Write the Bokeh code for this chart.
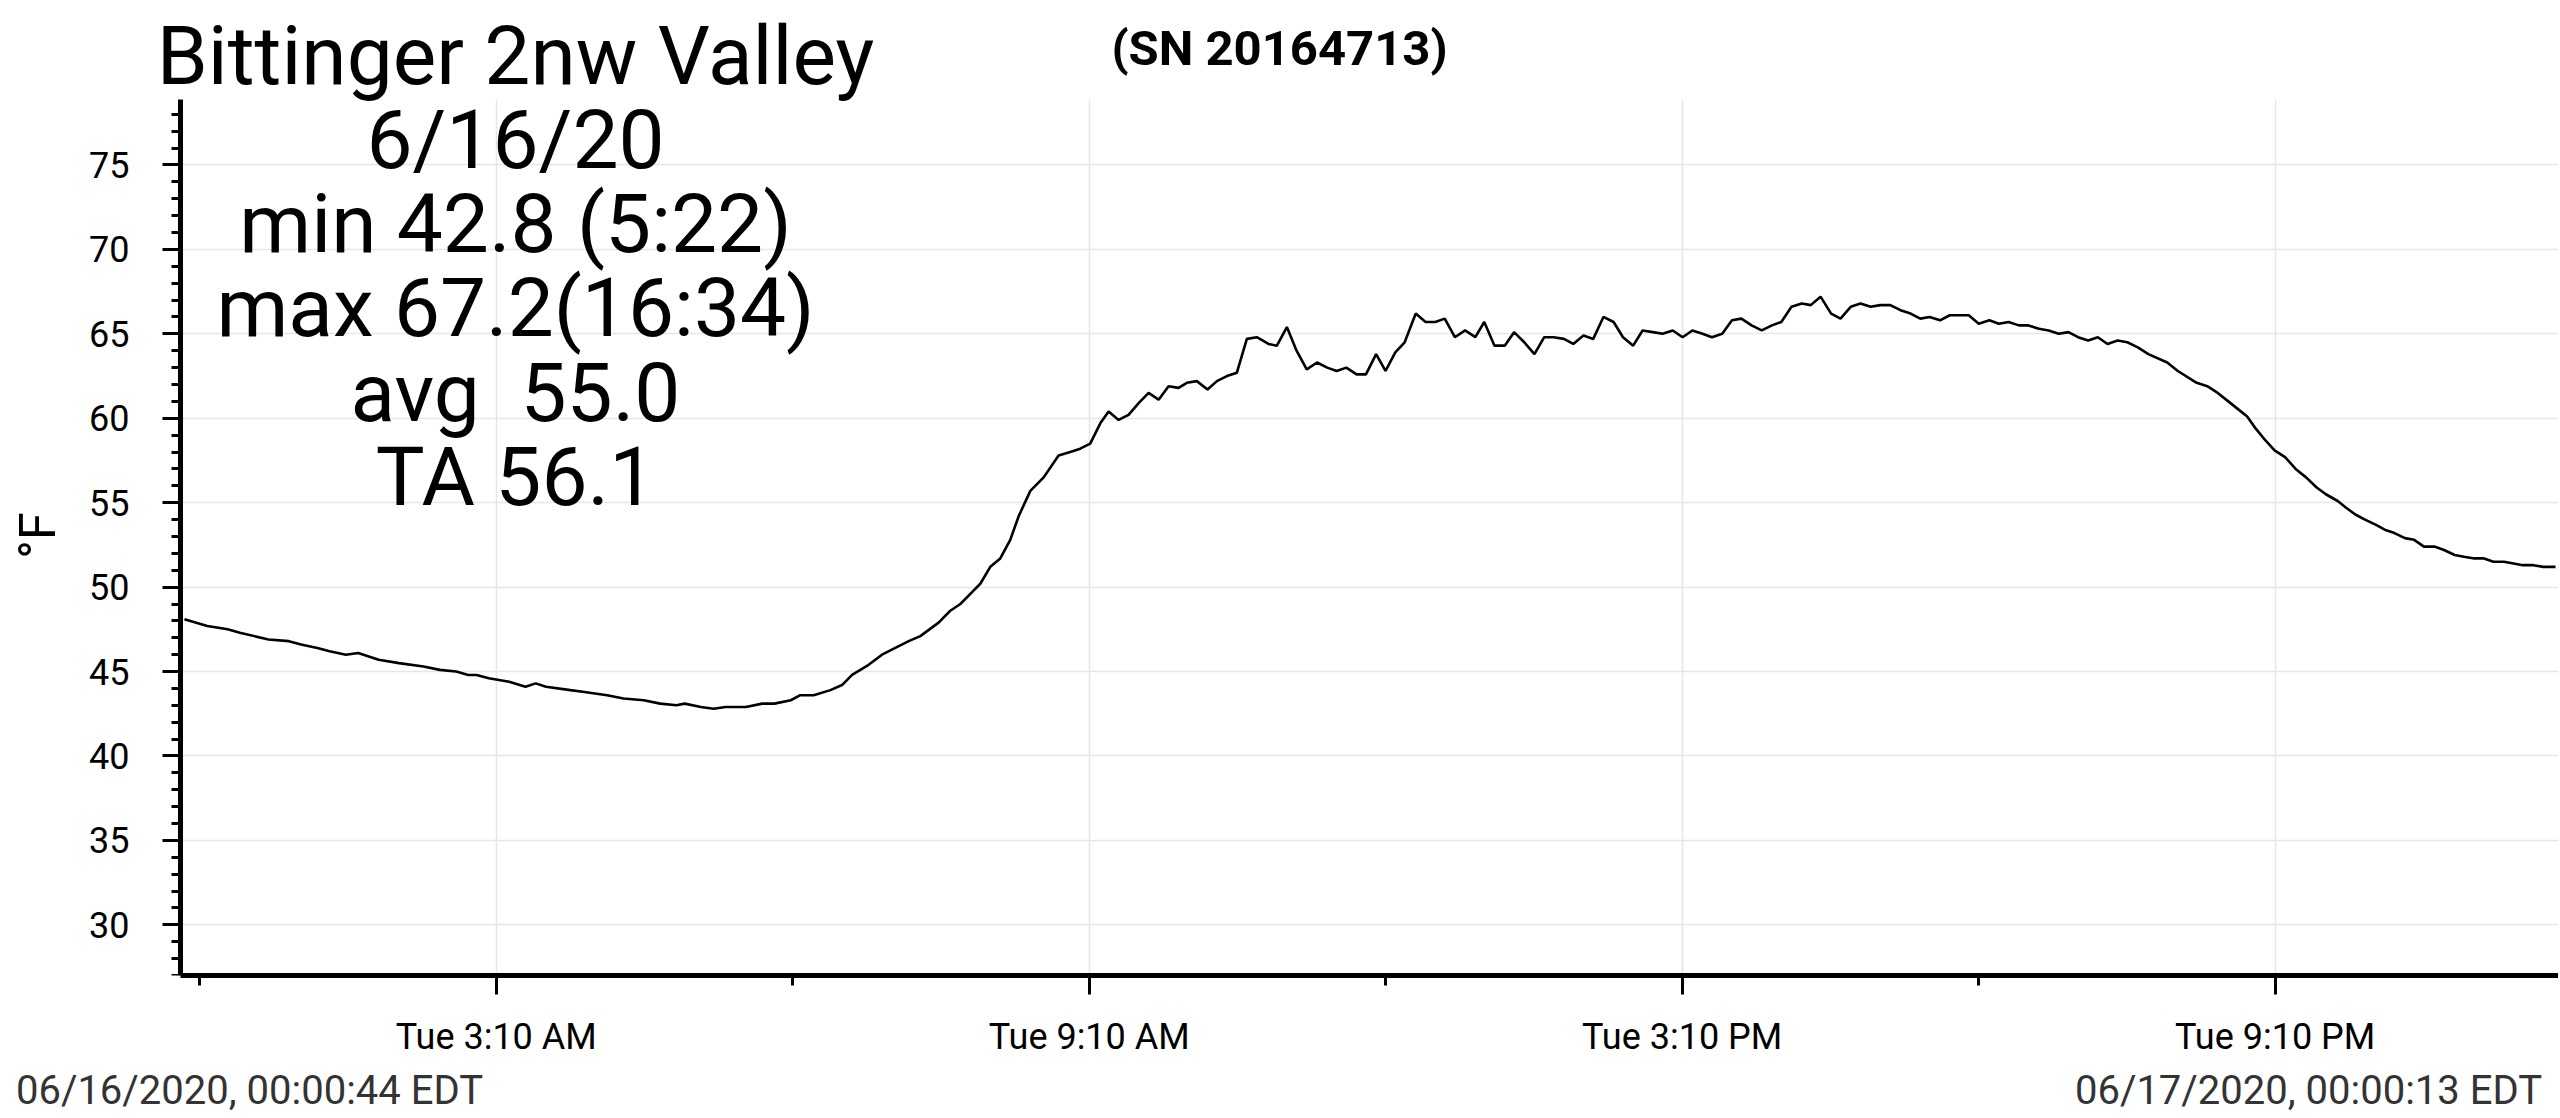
import math
import pandas as pd
from bokeh.plotting import figure
from bokeh.models import Range1d, FixedTicker, Label, LinearAxis
from bokeh.embed import file_html
from bokeh.resources import INLINE

# ---- data (hours after 2020-06-16 00:00 EDT, temperature in °F) ----
hours = [
    0.012, 0.243, 0.449, 0.573, 0.862, 1.068, 1.192, 1.357, 1.481, 1.646,
    1.770, 1.977, 2.183, 2.431, 2.596, 2.761, 2.885, 2.968, 3.091, 3.298,
    3.463, 3.566, 3.670, 3.917, 4.041, 4.289, 4.454, 4.660, 4.826, 4.991,
    5.073, 5.238, 5.367, 5.486, 5.693, 5.858, 5.982, 6.147, 6.244, 6.379,
    6.548, 6.666, 6.767, 6.935, 7.070, 7.205, 7.340, 7.458, 7.643, 7.761,
    7.863, 7.964, 8.065, 8.166, 8.267, 8.368, 8.453, 8.571, 8.706, 8.857,
    8.975, 9.076, 9.177, 9.279, 9.363, 9.464, 9.565, 9.667, 9.768, 9.869,
    9.970, 10.071, 10.155, 10.256, 10.364, 10.459, 10.560, 10.661, 10.762, 10.863,
    10.981, 11.066, 11.167, 11.265, 11.368, 11.472, 11.575, 11.670, 11.769, 11.872,
    11.967, 12.070, 12.165, 12.264, 12.359, 12.471, 12.570, 12.669, 12.764, 12.867,
    12.970, 13.074, 13.164, 13.268, 13.371, 13.466, 13.569, 13.672, 13.771, 13.866,
    13.970, 14.065, 14.168, 14.267, 14.370, 14.473, 14.568, 14.671, 14.766, 14.870,
    14.969, 15.072, 15.171, 15.270, 15.373, 15.468, 15.572, 15.671, 15.766, 15.869,
    15.972, 16.075, 16.170, 16.273, 16.377, 16.468, 16.567, 16.674, 16.769, 16.872,
    16.971, 17.074, 17.170, 17.273, 17.376, 17.478, 17.576, 17.670, 17.776, 17.874,
    18.066, 18.168, 18.275, 18.372, 18.470, 18.573, 18.670, 18.777, 18.875, 18.977,
    19.075, 19.173, 19.275, 19.373, 19.471, 19.573, 19.671, 19.777, 19.884, 20.075,
    20.182, 20.373, 20.480, 20.586, 20.693, 20.778, 20.884, 20.969, 21.067, 21.161,
    21.267, 21.374, 21.480, 21.587, 21.680, 21.800, 21.885, 21.978, 22.076, 22.183,
    22.276, 22.374, 22.480, 22.574, 22.672, 22.778, 22.876, 22.983, 23.077, 23.183,
    23.281, 23.375, 23.482, 23.579, 23.673, 23.779, 23.877, 24.004,
]
temps_f = [
    48.1, 47.7, 47.5, 47.3, 46.9, 46.8, 46.6, 46.4, 46.2, 46.0,
    46.1, 45.7, 45.5, 45.3, 45.1, 45.0, 44.8, 44.8, 44.6, 44.4,
    44.1, 44.3, 44.1, 43.9, 43.8, 43.6, 43.4, 43.3, 43.1, 43.0,
    43.1, 42.9, 42.8, 42.9, 42.9, 43.1, 43.1, 43.3, 43.6, 43.6,
    43.9, 44.2, 44.8, 45.4, 46.0, 46.4, 46.8, 47.1, 47.9, 48.6,
    49.0, 49.6, 50.2, 51.2, 51.7, 52.8, 54.2, 55.7, 56.5, 57.8,
    58.0, 58.2, 58.5, 59.7, 60.4, 59.9, 60.2, 60.9, 61.5, 61.1,
    61.9, 61.8, 62.1, 62.2, 61.7, 62.2, 62.5, 62.7, 64.7, 64.8,
    64.4, 64.3, 65.4, 64.0, 62.9, 63.3, 63.0, 62.8, 63.0, 62.6,
    62.6, 63.8, 62.8, 63.9, 64.5, 66.2, 65.7, 65.7, 65.9, 64.8,
    65.2, 64.8, 65.7, 64.3, 64.3, 65.1, 64.5, 63.8, 64.8, 64.8,
    64.7, 64.4, 64.9, 64.7, 66.0, 65.7, 64.8, 64.3, 65.2, 65.1,
    65.0, 65.2, 64.8, 65.2, 65.0, 64.8, 65.0, 65.8, 65.9, 65.5,
    65.2, 65.5, 65.7, 66.6, 66.8, 66.7, 67.2, 66.2, 65.9, 66.6,
    66.8, 66.6, 66.7, 66.7, 66.4, 66.2, 65.9, 66.0, 65.8, 66.1,
    66.1, 65.6, 65.8, 65.6, 65.7, 65.5, 65.5, 65.3, 65.2, 65.0,
    65.1, 64.8, 64.6, 64.8, 64.4, 64.6, 64.5, 64.2, 63.8, 63.3,
    62.8, 62.1, 61.9, 61.5, 61.0, 60.6, 60.1, 59.4, 58.7, 58.1,
    57.7, 57.0, 56.5, 55.9, 55.5, 55.1, 54.7, 54.3, 54.0, 53.7,
    53.4, 53.2, 52.9, 52.8, 52.4, 52.4, 52.2, 51.9, 51.8, 51.7,
    51.7, 51.5, 51.5, 51.4, 51.3, 51.3, 51.2, 51.2,
]

day_start = "2020-06-16 00:00:00"
x_tick_hours = [3 + 10 / 60, 9 + 10 / 60, 15 + 10 / 60, 21 + 10 / 60]
x_tick_labels = ["Tue 3:10 AM", "Tue 9:10 AM", "Tue 3:10 PM", "Tue 9:10 PM"]
x_minor_hours = [0 + 10 / 60, 6 + 10 / 60, 12 + 10 / 60, 18 + 10 / 60]
y_ticks = [30, 35, 40, 45, 50, 55, 60, 65, 70, 75]
y_minor = list(range(27, 79))

title_lines = ["Bittinger 2nw Valley", "6/16/20", "min 42.8 (5:22)",
               "max 67.2(16:34)", "avg \u00a055.0", "TA 56.1"]
serial_text = "(SN 20164713)"
y_unit_text = "°F"
footer_texts = ["06/16/2020, 00:00:44 EDT", "06/17/2020, 00:00:13 EDT"]

# ---- layout constants (pixels) ----
W, H = 2558, 1116
AXIS_X, FRAME_R, FRAME_B = 180, 2558, 975   # y axis position, frame right / bottom
Y_LO, Y_AXIS_TOP = 27.0, 78.9
PX_PER_DEG = 16.886
FONT = "Roboto"

base = pd.Timestamp(day_start)
def to_ms(h):
    return (base + pd.to_timedelta(h, unit="h")).value / 1e6

xs = [to_ms(h) for h in hours]
major_ms = [to_ms(h) for h in x_tick_hours]
minor_ms = [to_ms(h) for h in x_minor_hours]

xa0, x1 = to_ms(hours[0] - 0.04), to_ms(hours[-1] + 0.03)   # axis start / end
ms_per_px = (x1 - xa0) / (FRAME_R - AXIS_X)
x0 = xa0 - AXIS_X * ms_per_px                                # frame left edge (canvas x = 0)
def screen_to_ms(sx):
    return x0 + sx * ms_per_px

p = figure(
    width=W, height=H,
    x_axis_type="datetime",
    x_range=Range1d(x0, x1),
    y_range=Range1d(Y_LO, Y_LO + FRAME_B / PX_PER_DEG),
    output_backend="svg", toolbar_location=None,
    min_border_left=0, min_border_right=W - FRAME_R,
    min_border_top=0, min_border_bottom=H - FRAME_B,
    background_fill_color="white", border_fill_color="white",
)
p.outline_line_color = None

p.line(xs, temps_f, line_color="black", line_width=2.6)

# x axis
xa = p.xaxis[0]
xa.ticker = FixedTicker(ticks=major_ms, minor_ticks=minor_ms)
xa.major_label_overrides = {m: lab for m, lab in zip(major_ms, x_tick_labels)}
xa.bounds = (xa0, x1)
xa.axis_line_width = 5
xa.axis_line_color = "black"
xa.major_tick_line_width = 3
xa.minor_tick_line_width = 3
xa.major_tick_out = 19
xa.major_tick_in = 0
xa.minor_tick_out = 10
xa.minor_tick_in = 0
xa.major_label_standoff = 21
xa.major_label_text_font = FONT
xa.major_label_text_font_size = "36px"
xa.major_label_text_color = "black"

# footer axis carrying the start / end timestamps
foot_ms = [screen_to_ms(249), screen_to_ms(2308)]
fa = LinearAxis(ticker=FixedTicker(ticks=foot_ms, minor_ticks=[]),
                major_label_overrides={m: t for m, t in zip(foot_ms, footer_texts)})
fa.axis_line_color = None
fa.major_tick_line_color = None
fa.minor_tick_line_color = None
fa.major_tick_out = 0
fa.major_tick_in = 0
fa.major_label_standoff = 6
fa.major_label_text_font = FONT
fa.major_label_text_font_size = "40px"
fa.major_label_text_color = "#333333"
p.add_layout(fa, "below")

# y axis, pinned at its own x position inside the wide frame
ya = p.yaxis[0]
ya.fixed_location = xa0
ya.ticker = FixedTicker(ticks=y_ticks, minor_ticks=y_minor)
ya.bounds = (Y_LO, Y_AXIS_TOP)
ya.axis_line_width = 5
ya.axis_line_color = "black"
ya.major_tick_line_width = 3
ya.minor_tick_line_width = 3
ya.major_tick_out = 18
ya.major_tick_in = 0
ya.minor_tick_out = 9
ya.minor_tick_in = 0
ya.major_label_standoff = 33
ya.major_label_text_font = FONT
ya.major_label_text_font_size = "36px"
ya.major_label_text_color = "black"

# grids
for g in (p.xgrid[0], p.ygrid[0]):
    g.grid_line_color = "#e6e6e6"
    g.grid_line_width = 1.5
if "cross_bounds" in p.xgrid[0].properties():
    p.xgrid[0].cross_bounds = (Y_LO, Y_AXIS_TOP)
    p.ygrid[0].cross_bounds = (xa0, x1)

# y unit label
p.add_layout(Label(x=37, y=440, x_units="screen", y_units="screen",
                   text=y_unit_text, angle=math.pi / 2, text_font=FONT,
                   text_font_size="50px", text_color="black",
                   text_align="center", text_baseline="middle"))

# overlaid statistics text (screen units relative to the plot frame)
line_mid = [920, 836, 752, 668, 583, 499]
for txt, ym in zip(title_lines, line_mid):
    p.add_layout(Label(x=515, y=ym, x_units="screen", y_units="screen",
                       text=txt, text_font=FONT, text_font_size="82px",
                       text_color="black", text_align="center",
                       text_baseline="middle"))

p.add_layout(Label(x=1279, y=927, x_units="screen", y_units="screen",
                   text=serial_text, text_font=FONT, text_font_size="49px",
                   text_font_style="bold", text_color="black",
                   text_align="center", text_baseline="middle"))

open("out.html", "w").write(file_html(p, INLINE))
